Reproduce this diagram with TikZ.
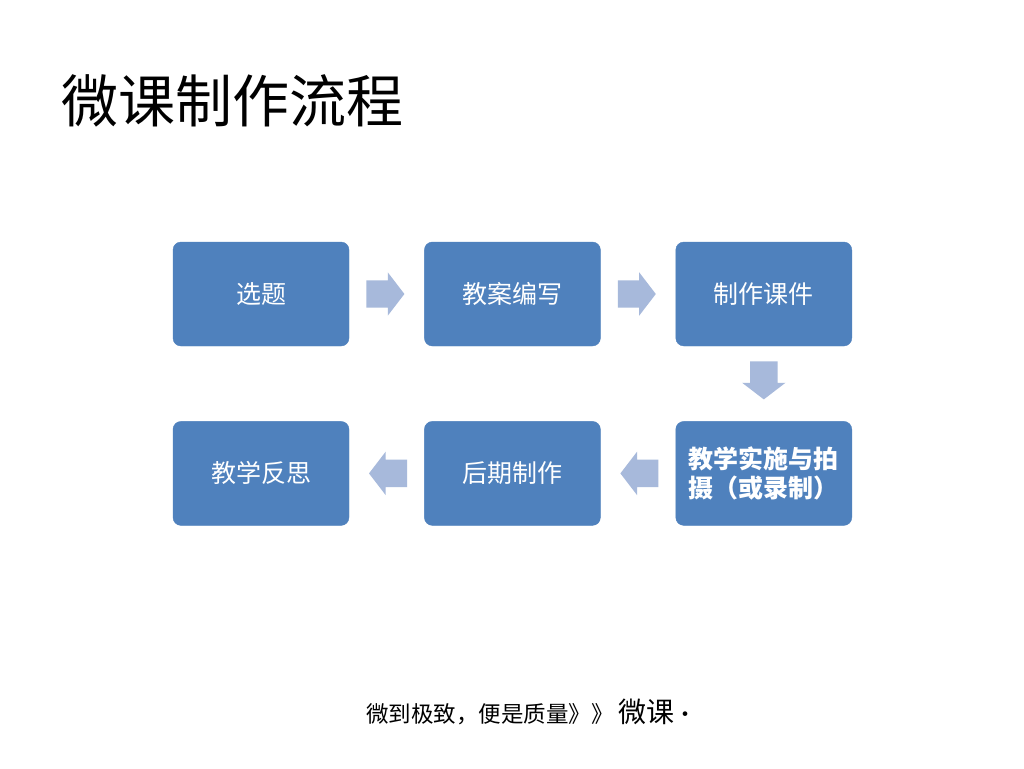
\documentclass[tikz,border=0pt]{standalone}
\usepackage{fontspec}
\setmainfont{Noto Sans CJK SC}
\usetikzlibrary{positioning,shapes.arrows}
\definecolor{boxblue}{RGB}{79,129,189}
\definecolor{arrowblue}{RGB}{167,185,219}
\begin{document}
\begin{tikzpicture}[x=1pt,y=-1pt,
	stepbox/.style={fill=boxblue, draw=boxblue, rounded corners=8pt,
		minimum width=176pt, minimum height=104pt, inner sep=0pt,
		text=white, align=left, font=\fontsize{25}{29}\selectfont},
	flowarrow/.style={single arrow, fill=arrowblue, draw=none,
		inner xsep=0pt, inner ysep=13.5pt, minimum height=38pt,
		single arrow head extend=8pt, single arrow tip angle=105, anchor=tail},
	node distance=75pt]
	% Nền
	\useasboundingbox[fill=white] (0,0) rectangle (1024,768);
	
	% Tiêu đề
	\node[anchor=west, inner sep=0pt, font=\fontsize{57}{60}\selectfont] (title) at (61,101) {微课制作流程};
	
	% Các bước
	\node[stepbox] (s1) at (261,294) {选题};
	\node[stepbox, right=of s1] (s2) {教案编写};
	\node[stepbox, right=of s2] (s3) {制作课件};
	\node[stepbox, below=of s3, font=\bfseries\fontsize{25}{29}\selectfont] (s4) {教学实施与拍\\摄（或录制）};
	\node[stepbox, left=of s4] (s5) {后期制作};
	\node[stepbox, left=of s5] (s6) {教学反思};
	
	% Mũi tên
	\node[flowarrow] (a12) at ([xshift=17pt]s1.east) {};
	\node[flowarrow] (a23) at ([xshift=17pt]s2.east) {};
	\node[flowarrow, shape border rotate=270, inner xsep=13.5pt, inner ysep=0pt] (a34) at ([yshift=-15pt]s3.south) {};
	\node[flowarrow, shape border rotate=180] (a45) at ([xshift=-17pt]s4.west) {};
	\node[flowarrow, shape border rotate=180] (a56) at ([xshift=-17pt]s5.west) {};
	
	% Chân trang
	\node[anchor=base west, inner sep=0pt, font=\fontsize{22.5}{25}\selectfont] (foot) at (366,722) {微到极致，便是质量》》};
	\node[anchor=base west, inner sep=0pt, font=\fontsize{28}{30}\selectfont] (brand) at (618,722) {微课{\fontsize{22}{24}\selectfont·}};
\end{tikzpicture}
\end{document}
